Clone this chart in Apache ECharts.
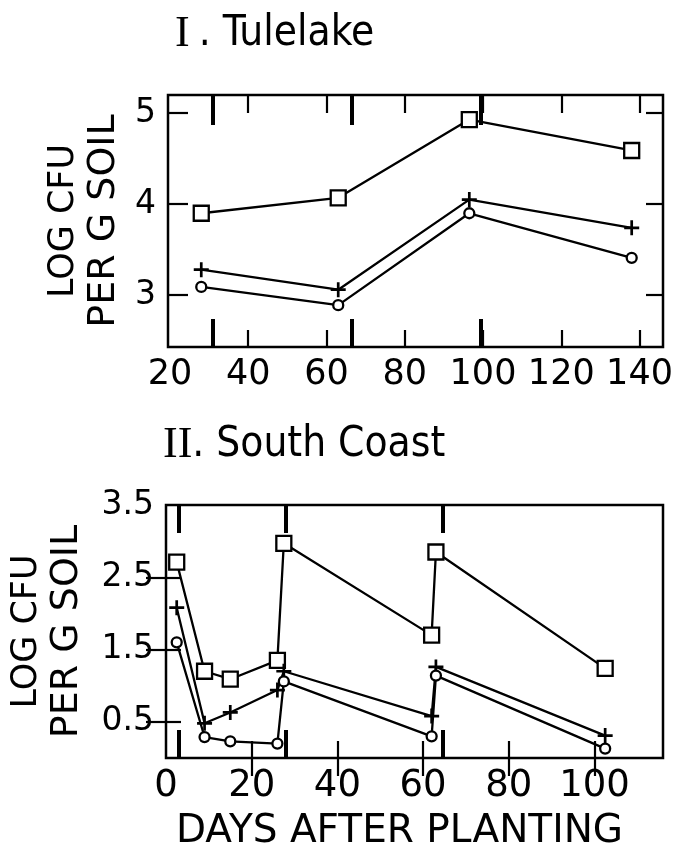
<!DOCTYPE html>
<html><head><meta charset="utf-8">
<script src="https://cdn.jsdelivr.net/npm/echarts@6/dist/echarts.min.js"></script>
<style>html,body{margin:0;padding:0;background:#fff}#c{width:679px;height:845px}</style>
</head><body><div id="c"></div>
<script>
// Panel I: Tulelake
const tuleDays = [28, 63, 96.5, 138];
const tuleSquare = [3.90, 4.07, 4.93, 4.59];
const tulePlus = [3.28, 3.06, 4.05, 3.74];
const tuleCircle = [3.09, 2.89, 3.90, 3.41];
const tuleXLabels = [20, 40, 60, 80, 100, 120, 140];
const tuleXTicks = [40, 60, 80, 100, 120, 140];
const tuleYLabels = [3, 4, 5];
const tuleEventTicks = [31, 66.5, 99.5];

// Panel II: South Coast
const coastDays = [2.5, 9, 15, 26, 27.5, 62, 63, 102.5];
const coastSquare = [2.71, 1.2, 1.09, 1.35, 2.97, 1.7, 2.85, 1.24];
const coastPlus = [2.08, 0.48, 0.63, 0.94, 1.2, 0.58, 1.26, 0.31];
const coastCircle = [1.6, 0.29, 0.23, 0.2, 1.06, 0.3, 1.14, 0.13];
const coastXLabels = [0, 20, 40, 60, 80, 100];
const coastXTicks = [20, 40, 60, 80, 100];
const coastYLabels = [0.5, 1.5, 2.5, 3.5];
const coastYTicks = [0.5, 1.5, 2.5];
const coastEventTicks = [3, 28, 64.5];

const FONT = "'DejaVu Sans', sans-serif";
const TITLEFONT = "'DejaVu Sans Condensed', 'DejaVu Sans', sans-serif";
const PLUS = 'path://M4.1,0H5.9V4.1H10V5.9H5.9V10H4.1V5.9H0V4.1H4.1Z';

function pairs(xs, ys) { return xs.map((x, i) => [x, ys[i]]); }

function xAx(grid, pos, min, max, tickVals, tickLen, tickW, labelVals, labelSize, extra) {
  return Object.assign({
    type: 'value', gridIndex: grid, position: pos, min: min, max: max,
    axisLine: { show: false }, splitLine: { show: false },
    axisTick: { show: true, inside: true, length: tickLen, customValues: tickVals,
      lineStyle: { color: '#000', width: tickW } },
    axisLabel: labelVals ? { show: true, customValues: labelVals, margin: 10,
      fontSize: labelSize, fontFamily: FONT, color: '#000' } : { show: false }
  }, extra || {});
}
function yAx(grid, pos, min, max, tickVals, tickLen, labelVals, extra) {
  return Object.assign({
    type: 'value', gridIndex: grid, position: pos, min: min, max: max,
    axisLine: { show: false }, splitLine: { show: false },
    axisTick: tickVals ? { show: true, inside: true, length: tickLen, customValues: tickVals,
      lineStyle: { color: '#000', width: 2.2 } } : { show: false },
    axisLabel: labelVals ? { show: true, customValues: labelVals, margin: 12,
      fontSize: 33, fontFamily: FONT, color: '#000' } : { show: false }
  }, extra || {});
}
const yName = {
  name: '{a|LOG CFU}\n{b|PER G SOIL}', nameLocation: 'middle', nameRotate: 90,
  nameTextStyle: { color: '#000', fontFamily: FONT, lineHeight: 40,
    rich: { a: { fontSize: 35, fontFamily: FONT, color: '#000', lineHeight: 40 },
            b: { fontSize: 38, fontFamily: FONT, color: '#000', lineHeight: 40 } } }
};

function series(xi, yi, data, sym, size, fill) {
  return {
    type: 'line', xAxisIndex: xi, yAxisIndex: yi, data: data,
    symbol: sym, symbolSize: size, showSymbol: true, silent: true,
    lineStyle: { color: '#000', width: 2.3 },
    itemStyle: { color: fill, borderColor: '#000', borderWidth: sym === PLUS ? 0 : 2.3 },
    z: 3
  };
}

function titleRich(pad) {
  return {
    r: { fontFamily: "'Liberation Serif', serif", fontSize: 44, fontWeight: 'normal', color: '#000', padding: [0, pad, 0, 0] },
    t: { fontFamily: TITLEFONT, fontSize: 42, fontWeight: 'normal', color: '#000' }
  };
}

const gridBase = { outerBoundsMode: 'none', containLabel: false };

const option = {
  animation: false,
  backgroundColor: '#fff',
  title: [
    { text: '{r|I}{t|. Tulelake}', left: 170, top: 7,
      textStyle: { fontWeight: 'normal', rich: titleRich(9) } },
    { text: '{r|II}{t|. South Coast}', left: 158, top: 418,
      textStyle: { fontWeight: 'normal', rich: titleRich(0) } }
  ],
  grid: [
    Object.assign({ left: 168, top: 95, width: 495, height: 252, show: true, borderColor: '#000', borderWidth: 2.5, backgroundColor: 'transparent' }, gridBase),
    Object.assign({ left: 168, top: 95, width: 495, height: 252, show: false }, gridBase),
    Object.assign({ left: 166, top: 505, width: 497, height: 253, show: true, borderColor: '#000', borderWidth: 2.5, backgroundColor: 'transparent' }, gridBase),
    Object.assign({ left: 166, top: 505, width: 497, height: 253, show: false }, gridBase)
  ],
  xAxis: [
    xAx(0, 'bottom', 19.5, 146, tuleXTicks, 17, 2.2, tuleXLabels, 35),
    xAx(0, 'top', 19.5, 146, tuleXTicks, 18, 2.2, null),
    xAx(1, 'bottom', 19.5, 146, tuleEventTicks, 28, 4, null),
    xAx(1, 'top', 19.5, 146, tuleEventTicks, 30, 4, null),
    xAx(2, 'bottom', 0, 116, coastXTicks, 17, 2.2, coastXLabels, 37, {
      name: 'DAYS AFTER PLANTING', nameLocation: 'middle', nameGap: 54,
      nameTextStyle: { fontSize: 39, fontFamily: FONT, color: '#000', padding: [0, 30, 0, 0] } }),
    xAx(2, 'top', 0, 116, coastXTicks, 18, 2.2, null),
    xAx(3, 'bottom', 0, 116, coastEventTicks, 28, 4, null),
    xAx(3, 'top', 0, 116, coastEventTicks, 28, 4, null)
  ],
  yAxis: [
    yAx(0, 'left', 2.43, 5.2, tuleYLabels, 20, tuleYLabels, Object.assign({ nameGap: 44 }, yName)),
    yAx(0, 'right', 2.43, 5.2, tuleYLabels, 17, null),
    yAx(1, 'left', 2.43, 5.2, null, 0, null, { show: false }),
    yAx(2, 'left', 0, 3.5, coastYTicks, 15, coastYLabels, Object.assign({ nameGap: 79 }, yName)),
    yAx(2, 'right', 0, 3.5, coastYTicks, 20, null),
    yAx(3, 'left', 0, 3.5, null, 0, null, { show: false })
  ],
  series: [
    series(0, 0, pairs(tuleDays, tuleSquare), 'rect', 15, '#fff'),
    series(0, 0, pairs(tuleDays, tulePlus), PLUS, 15, '#000'),
    series(0, 0, pairs(tuleDays, tuleCircle), 'circle', 10, '#fff'),
    series(4, 3, pairs(coastDays, coastSquare), 'rect', 15, '#fff'),
    series(4, 3, pairs(coastDays, coastPlus), PLUS, 15, '#000'),
    series(4, 3, pairs(coastDays, coastCircle), 'circle', 10, '#fff')
  ]
};
const chart = echarts.init(document.getElementById('c'), null, { renderer: 'canvas' });
chart.setOption(option);
</script>
</body></html>
